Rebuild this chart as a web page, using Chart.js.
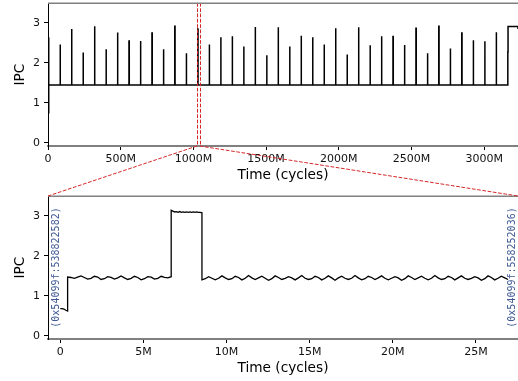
<!DOCTYPE html>
<html><head><meta charset="utf-8">
<script src="https://cdn.jsdelivr.net/npm/chart.js@4.4.0/dist/chart.umd.min.js"></script>
<style>
html,body{margin:0;padding:0;background:#fff;overflow:hidden}
#wrap{position:relative;width:518px;height:381px;background:#fff}
canvas{position:absolute;left:0}
</style></head><body>
<div id="wrap">
<canvas id="topc" width="518" height="190" style="top:0;width:518px;height:190px"></canvas>
<canvas id="botc" width="518" height="191" style="top:190px;width:518px;height:191px"></canvas>
<canvas id="ov" width="518" height="381" style="top:0;width:518px;height:381px;pointer-events:none"></canvas>
</div>
<script>
// ---------- DATA (time in millions of cycles, IPC values) ----------
// Top panel: whole run
const topStartIPC = 0.75;
const topBaseIPC = 1.45;
const spikeTimesM = [4, 83, 162, 241, 320, 399, 478, 557, 636, 715, 794, 872, 951, 1030, 1109, 1188, 1267, 1346, 1425, 1504,
  1583, 1662, 1741, 1820, 1899, 1978, 2057, 2136, 2215, 2294, 2373, 2452, 2531, 2610, 2688, 2767, 2846, 2925, 3004, 3083];
const spikeIPC = [2.64, 2.46, 2.85, 2.26, 2.92, 2.34, 2.76, 2.55, 2.55, 2.75, 2.34, 2.92, 2.24, 2.85, 2.46, 2.64, 2.67, 2.41, 2.90, 2.19,
  2.89, 2.41, 2.68, 2.64, 2.46, 2.87, 2.21, 2.89, 2.44, 2.67, 2.66, 2.45, 2.87, 2.24, 2.92, 2.36, 2.75, 2.57, 2.54, 2.77];
const spikeWidthM = 2;
const tailTimesM = [3163, 3164.5, 3229, 3233];
const tailIPC = [2.28, 2.91, 2.91, 2.85];

// Zoomed region markers on the top panel
const zoomStartM = 1025;
const zoomEndM = 1043;

// Bottom panel: zoomed region, phases (start, end) with IPC samples spread across each phase
const phaseStartM = [0, 0.44, 6.67, 8.52];
const phaseEndM = [0.44, 6.67, 8.52, 26.93];
const phaseIPC = [
  [0.68, 0.68, 0.67, 0.64, 0.62],
  [1.47, 1.46, 1.44, 1.47, 1.50, 1.46, 1.42, 1.44, 1.49, 1.47, 1.41, 1.43, 1.48, 1.46, 1.42, 1.45,
   1.50, 1.45, 1.41, 1.44, 1.49, 1.46, 1.40, 1.43, 1.48, 1.47, 1.42, 1.44, 1.49, 1.46, 1.45, 1.48],
  [3.14, 3.12, 3.10, 3.11, 3.09, 3.11, 3.09, 3.10, 3.09, 3.10, 3.09, 3.10, 3.09, 3.10, 3.09, 3.10, 3.09, 3.09, 3.08],
  [1.40, 1.43, 1.48, 1.44, 1.40, 1.44, 1.50, 1.45, 1.41, 1.43, 1.49, 1.46, 1.40, 1.44, 1.51, 1.45,
   1.41, 1.45, 1.49, 1.44, 1.39, 1.43, 1.50, 1.46, 1.41, 1.44, 1.48, 1.45, 1.40, 1.45, 1.51, 1.44,
   1.41, 1.43, 1.49, 1.46, 1.40, 1.44, 1.50, 1.45, 1.39, 1.45, 1.49, 1.44, 1.41, 1.44, 1.51, 1.45,
   1.40, 1.43, 1.49, 1.46, 1.41, 1.45, 1.50, 1.44, 1.40, 1.44, 1.48, 1.45, 1.39, 1.43, 1.50, 1.46,
   1.41, 1.45, 1.49, 1.44, 1.40, 1.44, 1.51, 1.45, 1.41, 1.43, 1.49, 1.46, 1.40, 1.45, 1.50, 1.44,
   1.41, 1.44, 1.48, 1.45, 1.39, 1.43, 1.50, 1.46, 1.40, 1.44, 1.49, 1.45, 1.41]
];
const annoTexts = ['(0x54099f:538822582)', '(0x54099f:558252036)'];
const annoXM = [-0.24, 27.2];

// Ticks / axis ranges
const topXTicks = [0, 500, 1000, 1500, 2000, 2500, 3000];
const topXLabels = ['0', '500M', '1000M', '1500M', '2000M', '2500M', '3000M'];
const botXTicks = [0, 5, 10, 15, 20, 25];
const botXLabels = ['0', '5M', '10M', '15M', '20M', '25M'];
const yTicks = [0, 1, 2, 3];
const yLabels = ['0', '1', '2', '3'];
const topXRange = [0, 3233];
const botXRange = [-0.74, 27.53];
const yRange = [-0.08, 3.5];

// ---------- build point lists ----------
const topPts = [{x: 0, y: topStartIPC}];
let level = topStartIPC;
spikeTimesM.forEach((t, i) => {
  topPts.push({x: t, y: level}, {x: t, y: spikeIPC[i]}, {x: t + spikeWidthM, y: spikeIPC[i]}, {x: t + spikeWidthM, y: topBaseIPC});
  level = topBaseIPC;
});
let prev = topBaseIPC;
tailTimesM.forEach((t, i) => { topPts.push({x: t, y: prev}, {x: t, y: tailIPC[i]}); prev = tailIPC[i]; });

const botPts = [];
phaseIPC.forEach((vals, p) => {
  const s = phaseStartM[p], e = phaseEndM[p], n = vals.length;
  vals.forEach((v, i) => botPts.push({x: s + (e - s) * i / (n - 1), y: v}));
});

// ---------- chart config ----------
const FONT = 'DejaVu Sans';
const tickFont = {family: FONT, size: 11};
const titleFont = {family: FONT, size: 13.7, lineHeight: 1};

const topSpine = {
  id: 'topSpine',
  afterDraw(chart) {
    const {ctx, chartArea: a} = chart;
    ctx.save();
    ctx.strokeStyle = '#808080'; ctx.lineWidth = 1.5;
    ctx.beginPath(); ctx.moveTo(a.left, a.top + 0.25); ctx.lineTo(a.right, a.top + 0.25); ctx.stroke();
    ctx.restore();
  }
};

function zeroPad(s) { s.paddingTop = 0; s.paddingBottom = 0; s.paddingLeft = 0; s.paddingRight = 0; }

function makeChart(id, pts, xr, xt, xl, padTop, axisH, titlePadB, lw, extraPlugins) {
  return new Chart(document.getElementById(id), {
    type: 'line',
    data: {datasets: [{data: pts, borderColor: '#000', borderWidth: lw, pointRadius: 0, tension: 0, fill: false}]},
    options: {
      responsive: false, animation: false, devicePixelRatio: 1,
      parsing: false, normalized: true,
      layout: {padding: {top: padTop, left: 0, right: 0, bottom: 0}},
      plugins: {legend: {display: false}, tooltip: {enabled: false}},
      scales: {
        x: {
          type: 'linear', min: xr[0], max: xr[1],
          afterBuildTicks: s => { s.ticks = xt.map(v => ({value: v})); },
          afterFit: s => { s.height = axisH; zeroPad(s); },
          ticks: {font: tickFont, color: '#111', padding: 3, maxRotation: 0, autoSkip: false,
                  callback: (v) => { const i = xt.indexOf(v); return i >= 0 ? xl[i] : ''; }},
          grid: {drawOnChartArea: false, tickLength: 4, tickColor: '#000', tickWidth: 1},
          border: {display: true, color: '#808080', width: 2},
          title: {display: true, text: 'Time (cycles)', font: titleFont, color: '#000', padding: {top: 0, bottom: titlePadB}}
        },
        y: {
          type: 'linear', min: yRange[0], max: yRange[1],
          afterBuildTicks: s => { s.ticks = yTicks.map(v => ({value: v})); },
          afterFit: s => { s.width = 48; zeroPad(s); },
          ticks: {font: tickFont, color: '#111', padding: 4,
                  callback: (v) => { const i = yTicks.indexOf(v); return i >= 0 ? yLabels[i] : ''; }},
          grid: {drawOnChartArea: false, tickLength: 4, tickColor: '#000', tickWidth: 1},
          border: {display: true, color: '#000', width: 1},
          title: {display: true, text: 'IPC', font: titleFont, color: '#000', padding: {top: 14, bottom: 0}}
        }
      }
    },
    plugins: [topSpine].concat(extraPlugins)
  });
}

const RED = '#d62728';
const markers = {
  id: 'markers',
  afterDatasetsDraw(chart) {
    const {ctx, chartArea: a, scales: {x}} = chart;
    ctx.save();
    ctx.strokeStyle = RED; ctx.lineWidth = 1; ctx.setLineDash([3.7, 1.6]);
    [zoomStartM, zoomEndM].forEach(v => {
      const px = Math.round(x.getPixelForValue(v)) + 0.5;
      ctx.beginPath(); ctx.moveTo(px, a.top); ctx.lineTo(px, a.bottom); ctx.stroke();
    });
    ctx.restore();
  }
};
const annos = {
  id: 'annos',
  afterDatasetsDraw(chart) {
    const {ctx, chartArea: a, scales: {x}} = chart;
    ctx.save();
    ctx.fillStyle = '#3d5895';
    ctx.font = '10px "DejaVu Sans Mono"';
    ctx.textAlign = 'center'; ctx.textBaseline = 'middle';
    annoTexts.forEach((t, i) => {
      const px = x.getPixelForValue(annoXM[i]);
      ctx.save(); ctx.translate(px, (a.top + a.bottom) / 2); ctx.rotate(-Math.PI / 2);
      ctx.fillText(t, 0, 0); ctx.restore();
    });
    ctx.restore();
  }
};

const topChart = makeChart('topc', topPts, topXRange, topXTicks, topXLabels, 3, 44, 7.5, 1.5, [markers]);
const botChart = makeChart('botc', botPts, botXRange, botXTicks, botXLabels, 6, 42, 6, 1.3, [annos]);

// connectors between panels
(function () {
  const ctx = document.getElementById('ov').getContext('2d');
  const ta = topChart.chartArea, ba = botChart.chartArea, tx = topChart.scales.x;
  const off = 190;
  ctx.strokeStyle = RED; ctx.lineWidth = 1; ctx.setLineDash([3.7, 1.6]);
  const x1 = tx.getPixelForValue(zoomStartM), x2 = tx.getPixelForValue(zoomEndM);
  ctx.beginPath(); ctx.moveTo(x1, ta.bottom); ctx.lineTo(ba.left, ba.top + off); ctx.stroke();
  ctx.beginPath(); ctx.moveTo(x2, ta.bottom); ctx.lineTo(ba.right, ba.top + off); ctx.stroke();
})();
</script>
</body></html>
